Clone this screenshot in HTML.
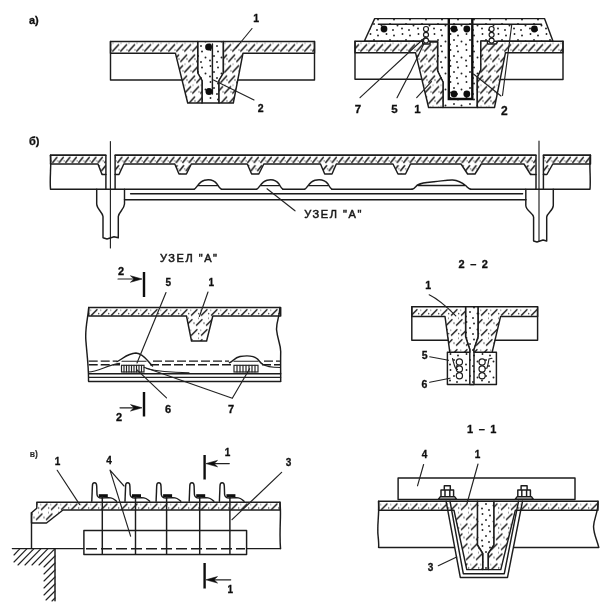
<!DOCTYPE html>
<html><head><meta charset="utf-8">
<style>
html,body{margin:0;padding:0;background:#fff;}
svg{display:block;}
text{font-family:"Liberation Sans",sans-serif;font-weight:bold;fill:#111;font-size:11px;stroke:#111;stroke-width:0.3px;}
.l{stroke:#1c1c1c;stroke-width:1.45;fill:none;stroke-linecap:round;stroke-linejoin:round;}
.t{stroke:#222;stroke-width:1.15;fill:none;stroke-linecap:round;}
.k{stroke:#111;stroke-width:2.4;fill:none;}
.h{fill:url(#hat);stroke:#1c1c1c;stroke-width:1.45;stroke-linejoin:round;}
.d{fill:url(#dot);stroke:#1c1c1c;stroke-width:1.45;stroke-linejoin:round;}
.hb{fill:url(#hatB)!important;}.hu{fill:url(#hatU)!important;}.hv{fill:url(#hatV)!important;}
.b{fill:#111;stroke:none;}
.c{fill:#fff;stroke:#1c1c1c;stroke-width:1.2;}
</style></head><body>
<svg width="607" height="607" viewBox="0 0 607 607">
<defs>
<filter id="bl" x="0" y="0" width="607" height="607" filterUnits="userSpaceOnUse"><feGaussianBlur stdDeviation="0.4"/></filter>
<g id="ht"><rect x="-4" y="-1" width="20" height="22" fill="#fff"/>
<path d="M1.5,8 L7,2.5 M6.5,18 L12,12.5 M-3.5,18 L2,12.5" stroke="#1c1c1c" stroke-width="1.45" fill="none" stroke-linecap="round"/>
<circle cx="8.7" cy="6.5" r="0.7" fill="#222"/><circle cx="4" cy="16" r="0.7" fill="#222"/><circle cx="0.8" cy="3" r="0.55" fill="#222"/><circle cx="8.5" cy="11" r="0.55" fill="#222"/></g>
<pattern id="hat" x="0" y="41.5" width="8" height="21" patternUnits="userSpaceOnUse"><rect width="8" height="21" fill="#fff"/>
<path d="M0.8,9.6 L6.6,3.2 M4.8,20 L10.6,13.6 M-3.2,20 L2.6,13.6" stroke="#1c1c1c" stroke-width="1.5" fill="none" stroke-linecap="round"/>
<circle cx="7" cy="8.3" r="0.65" fill="#222"/><circle cx="3" cy="17.5" r="0.65" fill="#222"/><circle cx="1" cy="1.8" r="0.5" fill="#222"/></pattern>
<pattern id="hatB" x="0" y="155.2" width="6.5" height="17" patternUnits="userSpaceOnUse"><rect width="7" height="17" fill="#fff"/>
<path d="M0.8,7.2 L4.8,2.2 M4.2,15.5 L8.1,10.5 M-2.3,15.5 L1.6,10.5" stroke="#1c1c1c" stroke-width="1.5" fill="none" stroke-linecap="round"/>
<circle cx="5.7" cy="5.8" r="0.6" fill="#222"/><circle cx="2.6" cy="13.8" r="0.6" fill="#222"/></pattern>
<pattern id="hatU" x="0" y="307.2" width="10" height="20" patternUnits="userSpaceOnUse"><use href="#ht"/></pattern>
<pattern id="hatV" x="0" y="501.5" width="10" height="20" patternUnits="userSpaceOnUse"><use href="#ht"/></pattern>
<pattern id="dot" width="16" height="16" patternUnits="userSpaceOnUse">
<rect width="16" height="16" fill="#fff"/>
<circle cx="2.5" cy="2" r="0.95" fill="#222"/><circle cx="10" cy="3.5" r="0.95" fill="#222"/>
<circle cx="6" cy="8" r="0.95" fill="#222"/><circle cx="13.5" cy="9.5" r="0.95" fill="#222"/>
<circle cx="2" cy="12.5" r="0.95" fill="#222"/><circle cx="9" cy="14" r="0.95" fill="#222"/>
</pattern>
</defs>
<rect width="607" height="607" fill="#fff"/>
<g filter="url(#bl)">

<!-- ===== Fig a left ===== -->
<g id="a1">
<path class="d" d="M197.7,41.5 H223.4 V73 L219,80.5 V103 H202 V80.5 L197.7,73 Z"/>
<path class="h" d="M110.5,41.5 H197.7 V73 L202,80.5 V103 H187.7 L175.4,53.2 H110.5 Z"/>
<path class="h" d="M223.4,41.5 H314.5 V53.2 H243 L233.3,103 H219 V80.5 L223.4,73 Z"/>
<path class="l" d="M110.5,41.5 V80 H182 M238,80 H314.5 V41.5"/>
<path class="l" d="M212.4,44 V94" stroke-width="1.4"/>
<circle class="b" cx="208.6" cy="47" r="3.5"/><circle class="b" cx="209" cy="91.4" r="3.5"/>
<path class="t" d="M252,28.5 L236,48"/>
<path class="t" d="M254,100 L213.5,80"/>
<text x="253.3" y="22" style="font-size:10.5px">1</text><text x="257.7" y="112" style="font-size:10.5px">2</text>
</g>
<text x="29" y="23.5">а)</text>

<!-- ===== Fig a right ===== -->
<g id="a2">
<path class="d" d="M374.7,18.6 H544.5 L553,41.2 H480.8 V70 L477.3,77.5 V107.5 H443 V82 L437.6,71 V41.2 H364.3 Z"/>
<path class="h" d="M355,41.2 H422.7 V44 H430 V42 H437.6 V71 L443,82 V107.5 H428.6 L415.5,52.7 H355 Z"/>
<path class="h" d="M480.8,41 H487.5 V44 H496 L498,41.2 H563 V52.7 H505.5 L494.5,107.5 H477.3 V77.5 L480.8,70 Z"/>
<path class="l" d="M355,41.2 V79.2 H421.9 M500.5,79.5 H563 V41.2"/>
<path class="k" d="M448.8,18.6 V99 H472.3 V18.6"/>
<path class="l" d="M378.4,24.2 H541.5" stroke-width="2.4"/>
<circle class="b" cx="384" cy="29" r="3.4"/><circle class="b" cx="454" cy="29" r="3.4"/><circle class="b" cx="466.8" cy="29" r="3.4"/><circle class="b" cx="534.4" cy="29" r="3.4"/>
<circle class="b" cx="454" cy="94" r="3.4"/><circle class="b" cx="466.8" cy="94" r="3.4"/>
<circle class="c" cx="426" cy="29" r="2.5"/><circle class="c" cx="426" cy="34.8" r="2.5"/><circle class="c" cx="426" cy="40.6" r="2.5"/>
<circle class="c" cx="491.6" cy="29" r="2.5"/><circle class="c" cx="491.6" cy="34.8" r="2.5"/><circle class="c" cx="491.6" cy="40.6" r="2.5"/>
<path class="t" d="M360,97.7 L426,36.5"/>
<path class="t" d="M397,97.7 Q412,70 424,43.5"/>
<path class="t" d="M416.7,97.7 L431.5,81.7"/>
<path class="t" d="M502.5,95.5 L511.7,25"/>
<path class="t" d="M501,96 L473.5,74"/>
<text x="354.8" y="113.3" style="font-size:11.5px">7</text><text x="391.3" y="113.3" style="font-size:11.5px">5</text><text x="414.3" y="113.3" style="font-size:11.5px">1</text><text x="501" y="114.6" style="font-size:12px">2</text>
</g>

<!-- ===== Fig b ===== -->
<g id="b">
<path class="h hb" d="M50.5,155.2 H105.9 V174.5 H102 L98,164 H50.5 Z"/>
<path class="l" d="M50.5,155.2 C51.5,165 49.5,178 50.5,189.3 H105.9 V174.5"/>
<path class="h hb" d="M115.1,155.2 H536 V174.5 H530.6 L524,164 H481.3 L475,174 H467.6 L461,164 H410.5 L405.5,174 H398 L393,164 H336.3 L332,174 H324.7 L320.5,164 H263.8 L258.8,174 H251.6 L247.3,164 H191.3 L186.4,174 H179 L174.8,164 H123.8 L119,174.5 H115.1 Z"/>
<path class="l" d="M115.1,174.5 V189.3 H194 M221.5,189.3 H256.5 M283,189.3 H304.5 M332,189.3 H411.9 M470.5,189.3 H536 V174.5"/>
<path class="l" d="M50.5,155.2 H105.9 M115.1,155.2 H536 M543.4,155.2 H590.5" stroke-width="1.8"/>
<path class="h hb" d="M543.4,155.2 H590.5 V164 H552.8 L546.9,174.5 H543.4 Z"/>
<path class="l" d="M543.4,174.5 V189.3 H590 C591,178 589,166 590.3,155.2"/>
<path class="t" d="M110.4,141.5 V248 M539,141 V241"/>
<!-- bumps -->
<path class="l" d="M194,189.3 C197,188 198.5,181.8 204.5,180.2 C210,179 214.5,180.5 217,184 C218.5,186.5 219.5,188.3 221.5,189.3 M198.5,185.6 H218.3"/>
<path class="l" d="M256.5,189.3 C259.5,188 261,181.8 267,180.2 C272,179 276.5,180.5 279,184 C280.3,186.5 281.3,188.3 283,189.3 M261,185.6 H280"/>
<path class="l" d="M304.5,189.3 C307.5,188 309,181.8 315,180.2 C321,179 325.5,180.5 328,184 C329.3,186.5 330.3,188.3 332,189.3 M309,185.6 H329"/>
<path class="l" d="M411.9,189.3 C415,188.5 416,185.5 418.5,184.5 C422,182.5 428,182.3 434,181.8 C442,181 447,179.8 452.7,180 C459,180.5 462.5,183 465.9,185.8 C467.5,187.3 468.5,188.6 470.5,189.3 M418.5,185.4 H465.5"/>
<!-- ties -->
<path class="l" d="M130.6,193.7 H522.6 M124.5,199.7 H526" stroke-width="1.5"/>
<!-- columns -->
<path class="l" d="M96.7,189.3 V204 C97,209.5 102.5,212 103,216.5 V237.8 M124.5,189.3 V204 C124.2,209.5 118.7,212 118.3,216.5 V237.8 M103,237.8 L107,239 L114,236.8 L118.3,237.8 M105.9,189.3 H115.1"/>
<path class="l" d="M525.8,189.3 V205.5 C526.2,211 533,213 533.6,217 V241 M553.3,189.3 V205.5 C553,211 547.2,213 546.7,217 V241 M533.6,241 L537,242 L543,240 L546.7,241 M536,189.3 H543.4"/>
<path class="t" d="M267,188.8 L295,210.8"/>
<text x="304.3" y="218" style="letter-spacing:1.55px;font-weight:normal;stroke:#1a1a1a;stroke-width:0.5px">УЗЕЛ "А"</text>
</g>
<text x="29" y="145">б)</text>

<!-- ===== Uzel A ===== -->
<g id="ua">
<text x="160" y="261.5" style="letter-spacing:1.55px;font-weight:normal;stroke:#1a1a1a;stroke-width:0.5px">УЗЕЛ "А"</text>
<path class="h hu" d="M88.7,307.5 H280.7 V316 H212.8 L206.6,341 H191.5 L186.5,316 H88.7 Z"/>
<path class="l" d="M88.7,307.5 C88,318 84.5,330 86,342 C87,355 88.8,368 88.5,381 M279.8,307.5 C280,316 276,322 276.6,330 C277.5,340 281,345 280.7,352 C280.5,362 280.7,372 280.7,381"/>
<path class="l" d="M88.7,361.1 H117 M153,361.1 H229 M264,361.1 H280.7" stroke-width="1.5" stroke-dasharray="9 3" style="stroke-linecap:butt"/>
<path class="l" d="M88.7,364.8 H120 M150,364.8 H232 M262,364.8 H280.7" stroke-width="1.2" stroke-dasharray="9 3" style="stroke-linecap:butt"/>
<path class="l" d="M88.7,373.7 H280.7" stroke-width="1.4"/>
<path class="t" d="M88.7,377.3 H280.7"/>
<path class="l" d="M88.7,381.4 H280.7" stroke-width="1.7"/>
<path class="l" d="M117,361.6 C123,359 127,353.3 136,353 C144,353.5 148,362 152.5,366"/>
<path class="l" d="M229.5,362.8 C233,361.5 234.5,357.5 240,356.5 C247,355.3 254,356 257.5,359 C259.5,361 260.5,363 262.5,364.2"/>
<path class="t" d="M122,361.2 H146 M234,361.2 H258"/>
<path class="t" d="M88.5,372 C98,371.5 108,365 119.6,363.4 M146.4,368.5 C160,372 175,372.5 189,372.8 M262.5,364.2 C266,366.5 272,367.3 280,367.5"/>
<g class="t"><rect x="121.5" y="365.3" width="22.5" height="6.7"/><path d="M124,365.3 v6.7 M126.5,365.3 v6.7 M129,365.3 v6.7 M131.5,365.3 v6.7 M134,365.3 v6.7 M136.5,365.3 v6.7 M139,365.3 v6.7 M141.5,365.3 v6.7"/></g>
<g class="t"><rect x="234" y="365.3" width="24" height="6.7"/><path d="M237,365.3 v6.7 M240,365.3 v6.7 M243,365.3 v6.7 M246,365.3 v6.7 M249,365.3 v6.7 M252,365.3 v6.7 M255,365.3 v6.7"/></g>
<!-- section marks -->
<path class="k" d="M144,272 V297 M144,392 V416.5" stroke-width="2.2"/>
<path class="t" d="M118,279 H138 M120,407.8 H138" stroke-width="1.4"/>
<path d="M142,279 L130.5,275.8 L134,279 L130.5,282.2 Z M142,407.8 L130.5,404.6 L134,407.8 L130.5,411 Z" fill="#111" stroke="#111" stroke-width="0.6" stroke-linejoin="round"/>
<text x="118" y="275">2</text><text x="116" y="421">2</text>
<text x="165.5" y="286" style="font-size:10px">5</text><text x="208.5" y="285.8" style="font-size:10px">1</text><text x="165" y="413">6</text><text x="228" y="413">7</text>
<path class="t" d="M166,292.5 L137,363 M208,292 L199.4,316.5 M166.5,397.8 L137,369.8 M232.3,398.3 L144,367.3 M232.3,398.3 L249.6,368.7"/>
</g>

<!-- ===== Section 2-2 ===== -->
<g id="s22">
<text x="458.5" y="267.5" style="word-spacing:2.5px">2 – 2</text>
<path class="d" d="M447.4,352.2 H496.4 V384.4 H447.4 Z"/>
<path class="d" d="M465.6,306.8 H478.2 V336.8 L474,349.4 V384.4 H469.8 V349.4 L465.6,336.8 Z"/>
<path class="h hu" d="M411.8,306.8 H465.6 V336.8 L469.8,349.4 V352.2 H449.8 L445,316.4 H411.8 Z"/>
<path class="h hu" d="M478.2,306.8 H537.6 V316.4 H500.6 L492.2,352.2 H474 V349.4 L478.2,336.8 Z"/>
<path class="l" d="M411.8,306.8 V340.2 H448.3 M495,340.2 H537.6 V306.8"/>
<circle class="c" cx="459.4" cy="362" r="3.1"/><circle class="c" cx="459.4" cy="368.9" r="3.1"/><circle class="c" cx="459.4" cy="375.8" r="3.1"/>
<circle class="c" cx="482.1" cy="362" r="3.1"/><circle class="c" cx="482.1" cy="368.9" r="3.1"/><circle class="c" cx="482.1" cy="375.8" r="3.1"/>
<path class="t" d="M452.5,358.5 C453.5,362 454,365.5 455.5,368 L457.5,369.5 M492,358.3 L489,359 C488.5,362 488,365 487,368 L485.3,368.5"/>
<text x="425.2" y="289" style="font-size:10.5px">1</text><text x="421.8" y="358.5" style="font-size:10.5px">5</text><text x="421.5" y="388" style="font-size:10.5px">6</text>
<path class="t" d="M429.2,294.8 C440,300 448,308 455.8,315.8 M429.7,356.8 L448.5,360.3 M429.7,382.3 L450,378.2"/>
</g>

<!-- ===== Fig v ===== -->
<g id="v">
<text x="29.8" y="456.8" style="font-size:8.5px;fill:#333;stroke-width:0.15px">в)</text>
<path class="h hv" d="M36.8,502.3 H280 V510 H63 L46.5,523 H31.5 V512.7 L36.8,508.3 Z"/>
<path class="l" d="M31.5,512.7 V548.4 M280,502.3 C281.5,515 279,530 280.5,548.6"/>
<path class="l" d="M12.4,548.6 H83.8 M246.7,548.6 H280.5 M55,548.6 V600.8"/>
<path class="t" stroke-width="1.3" d="M14,555 L20,548.6 M14,562 L27,548.6 M18,565 L34,548.6 M25,565 L41,548.6 M32,565 L48,548.6 M39,565 L55,548.6 M44,567 L55,556 M44,574 L55,563 M44,581 L55,570 M44,588 L55,577 M44,595 L55,584 M46,600 L55,591 M52,601 L55,598"/>
<rect class="l" x="83.9" y="530.5" width="162.7" height="23.9" fill="#fff"/>
<path class="l" d="M86,548.7 H245" stroke-width="1.5" stroke-dasharray="11 4" style="stroke-linecap:butt"/>
<g id="br">
<path class="l" d="M91.8,501.3 L92.4,486 C92.4,481.8 96.6,481.8 96.7,486 L97,494.5 C97.3,497.3 99,498 101.5,498 L108.5,497.6 C112.5,497.6 114.5,499.2 116.5,501.3" fill="#fff"/>
<rect x="98.8" y="494.2" width="9" height="3.1" fill="#111"/>
<path class="l" d="M102.3,496.4 V554.3" stroke-width="1.8"/>
</g>
<use href="#br" x="33.2"/><use href="#br" x="64.3"/><use href="#br" x="97.4"/><use href="#br" x="127.6"/>
<path class="k" d="M204.6,455 V479.5 M204.6,563 V588.6" stroke-width="2.3"/>
<path class="t" d="M229.3,463.6 H210 M230.7,579.8 H210" stroke-width="1.4"/>
<path d="M206,463.6 L217.5,460.4 L214,463.6 L217.5,466.8 Z M206,579.8 L217.5,576.6 L214,579.8 L217.5,583 Z" fill="#111" stroke="#111" stroke-width="0.6" stroke-linejoin="round"/>
<text x="224.8" y="456" style="font-size:10px">1</text><text x="227.5" y="593" style="font-size:10px">1</text>
<text x="54.8" y="464.5" style="font-size:10px">1</text><text x="106.2" y="464.2" style="font-size:10px">4</text><text x="285.8" y="466" style="font-size:10px">3</text>
<path class="t" d="M57.2,470.3 L79.7,504.6 M110,470.2 L130.6,536.2 M110,470.2 L124,486 M281.6,472.4 L232,519.7"/>
</g>

<!-- ===== Section 1-1 ===== -->
<g id="s11">
<text x="467" y="432.6" style="word-spacing:2.5px">1 – 1</text>
<rect class="l" x="398.1" y="478" width="176.9" height="21.4" fill="#fff"/>
<path class="d" d="M477.4,501.3 H494 V545 L488.3,553.5 V569.6 H482.7 V553.5 L477.4,545 Z"/>
<path class="h hv" d="M378.6,501.3 H477.4 V545 L482.7,553.5 V569.6 H466.8 L454,510.3 H378.6 Z"/>
<path class="h hv" d="M494,501.3 H598 V510.3 H515.3 L500.8,569.6 H488.3 V553.5 L494,545 Z"/>
<path class="l" d="M378.6,501.3 C379.5,512 377,525 378,535 C378.5,540 379,544 378.6,547.4 H454.3 M513.8,547.4 H598.8 C597,540 593.2,533 593.6,526 C594,518 598.5,512 598,501.3"/>
<path class="l" d="M446.1,501.3 L460.3,577.4 H507.5 L522.5,501.3 M450,501.3 L463.3,573.7 H504.3 L518.5,501.3"/>
<g id="bolt"><path class="l" d="M438.5,499.2 L440.2,496.8 H454.8 L456.5,499.2 Z M441,496.8 V490 H453.6 V496.8 M445,490 V496.8 M449.8,490 V496.8 M444.3,490 V485.8 H450.3 V490" fill="#fff" stroke-width="1.2"/></g>
<use href="#bolt" x="76.8"/>
<text x="421.7" y="457.5" style="font-size:10px">4</text><text x="474.8" y="458" style="font-size:10px">1</text><text x="427.8" y="570.6" style="font-size:10px">3</text>
<path class="t" d="M423.6,464.5 L417.5,485.8 M478,464 L467,503.5 M438.3,565.7 L456.7,557.1"/>
</g>
</g>
</svg>
</body></html>
